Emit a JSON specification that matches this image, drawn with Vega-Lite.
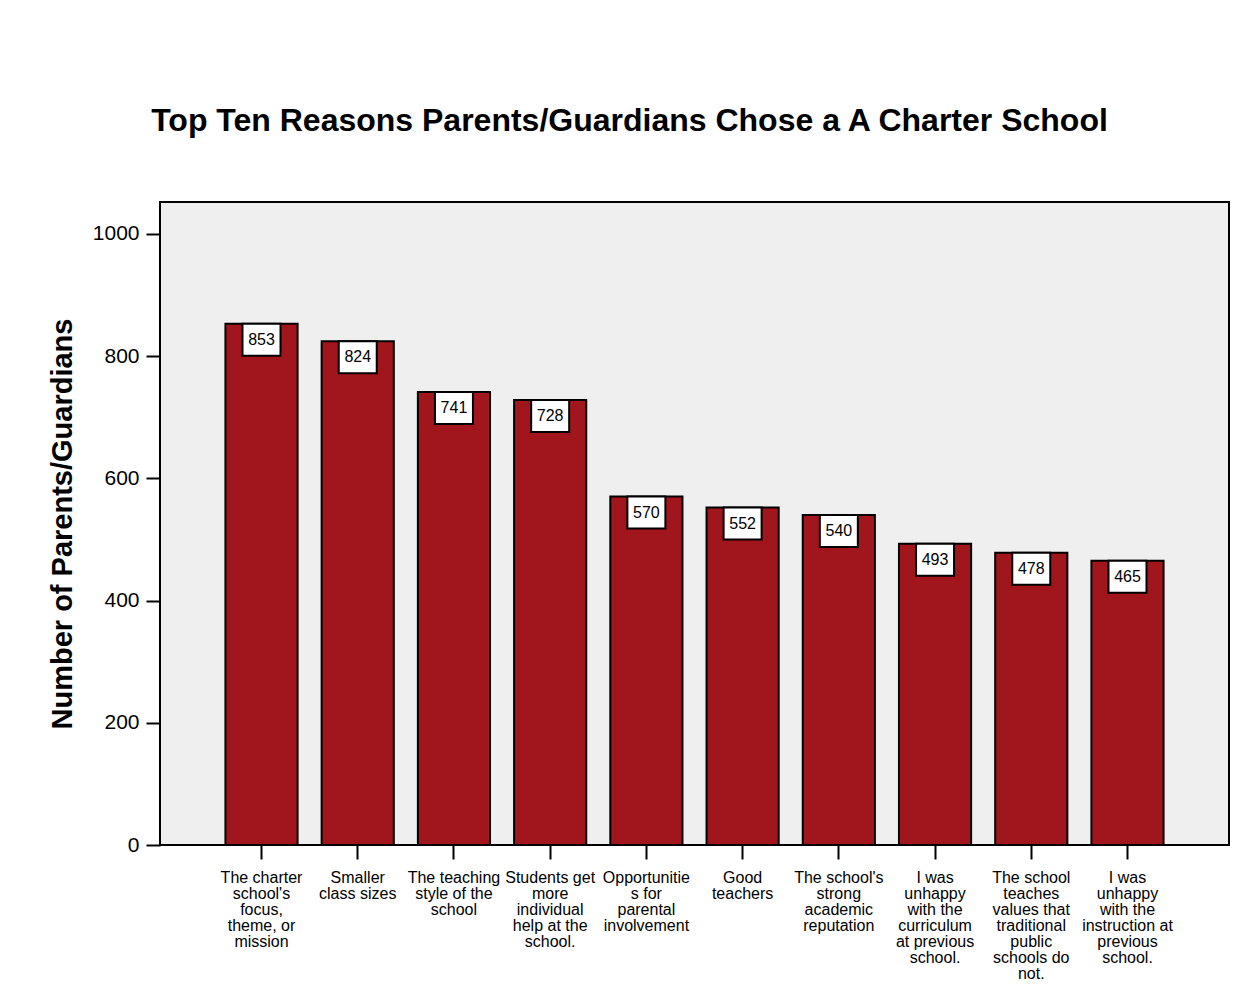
{
  "$schema": "https://vega.github.io/schema/vega-lite/v6.json",
  "autosize": {"type": "none"},
  "width": 1069,
  "height": 643,
  "padding": {"left": 160, "top": 202, "right": 24, "bottom": 157},
  "background": "white",
  "title": {
    "text": "Top Ten Reasons Parents/Guardians Chose a A Charter School",
    "font": "Liberation Sans",
    "fontSize": 32,
    "fontWeight": "bold",
    "color": "black",
    "anchor": "middle",
    "dx": -65,
    "offset": 64
  },
  "config": {
    "view": {"fill": "#EFEFEF", "stroke": "black", "strokeWidth": 2},
    "font": "Liberation Sans"
  },
  "data": {
    "values": [
      {"reason": "The charter|school's|focus,|theme, or|mission", "count": 853},
      {"reason": "Smaller|class sizes", "count": 824},
      {"reason": "The teaching|style of the|school", "count": 741},
      {"reason": "Students get|more|individual|help at the|school.", "count": 728},
      {"reason": "Opportunitie|s for|parental|involvement", "count": 570},
      {"reason": "Good|teachers", "count": 552},
      {"reason": "The school's|strong|academic|reputation", "count": 540},
      {"reason": "I was|unhappy|with the|curriculum|at previous|school.", "count": 493},
      {"reason": "The school|teaches|values that|traditional|public|schools do|not.", "count": 478},
      {"reason": "I was|unhappy|with the|instruction at|previous|school.", "count": 465}
    ]
  },
  "encoding": {
    "x": {
      "field": "reason",
      "type": "nominal",
      "sort": null,
      "scale": {"paddingInner": 0.25, "paddingOuter": 0.68},
      "axis": {
        "title": null,
        "labelAngle": 0,
        "labelExpr": "split(datum.label, '|')",
        "labelFontSize": 16,
        "labelLineHeight": 16,
        "labelColor": "black",
        "labelPadding": 10,
        "labelLimit": 0,
        "labelBaseline": "top",
        "domain": false,
        "ticks": true,
        "tickSize": 14,
        "tickWidth": 2,
        "tickColor": "black",
        "grid": false
      }
    },
    "y": {
      "field": "count",
      "type": "quantitative",
      "scale": {"domain": [0, 1052], "nice": false},
      "axis": {
        "title": "Number of Parents/Guardians",
        "titleFontSize": 29,
        "titleFontWeight": "bold",
        "titleColor": "black",
        "titlePadding": 15,
        "values": [0, 200, 400, 600, 800, 1000],
        "format": "d",
        "labelFontSize": 21,
        "labelColor": "black",
        "labelPadding": 7,
        "domain": false,
        "tickSize": 14,
        "tickWidth": 2,
        "tickColor": "black",
        "grid": false
      }
    }
  },
  "layer": [
    {
      "mark": {"type": "bar", "fill": "#A0161C", "stroke": "black", "strokeWidth": 2}
    },
    {
      "mark": {
        "type": "point",
        "shape": "M-1,-0.842L1,-0.842L1,0.842L-1,0.842Z",
        "size": 1444,
        "filled": true,
        "fill": "white",
        "stroke": "black",
        "strokeWidth": 2,
        "opacity": 1,
        "yOffset": 16
      }
    },
    {
      "mark": {
        "type": "text",
        "fontSize": 16,
        "color": "black",
        "baseline": "middle",
        "align": "center",
        "yOffset": 16
      },
      "encoding": {"text": {"field": "count", "type": "quantitative"}}
    }
  ]
}
